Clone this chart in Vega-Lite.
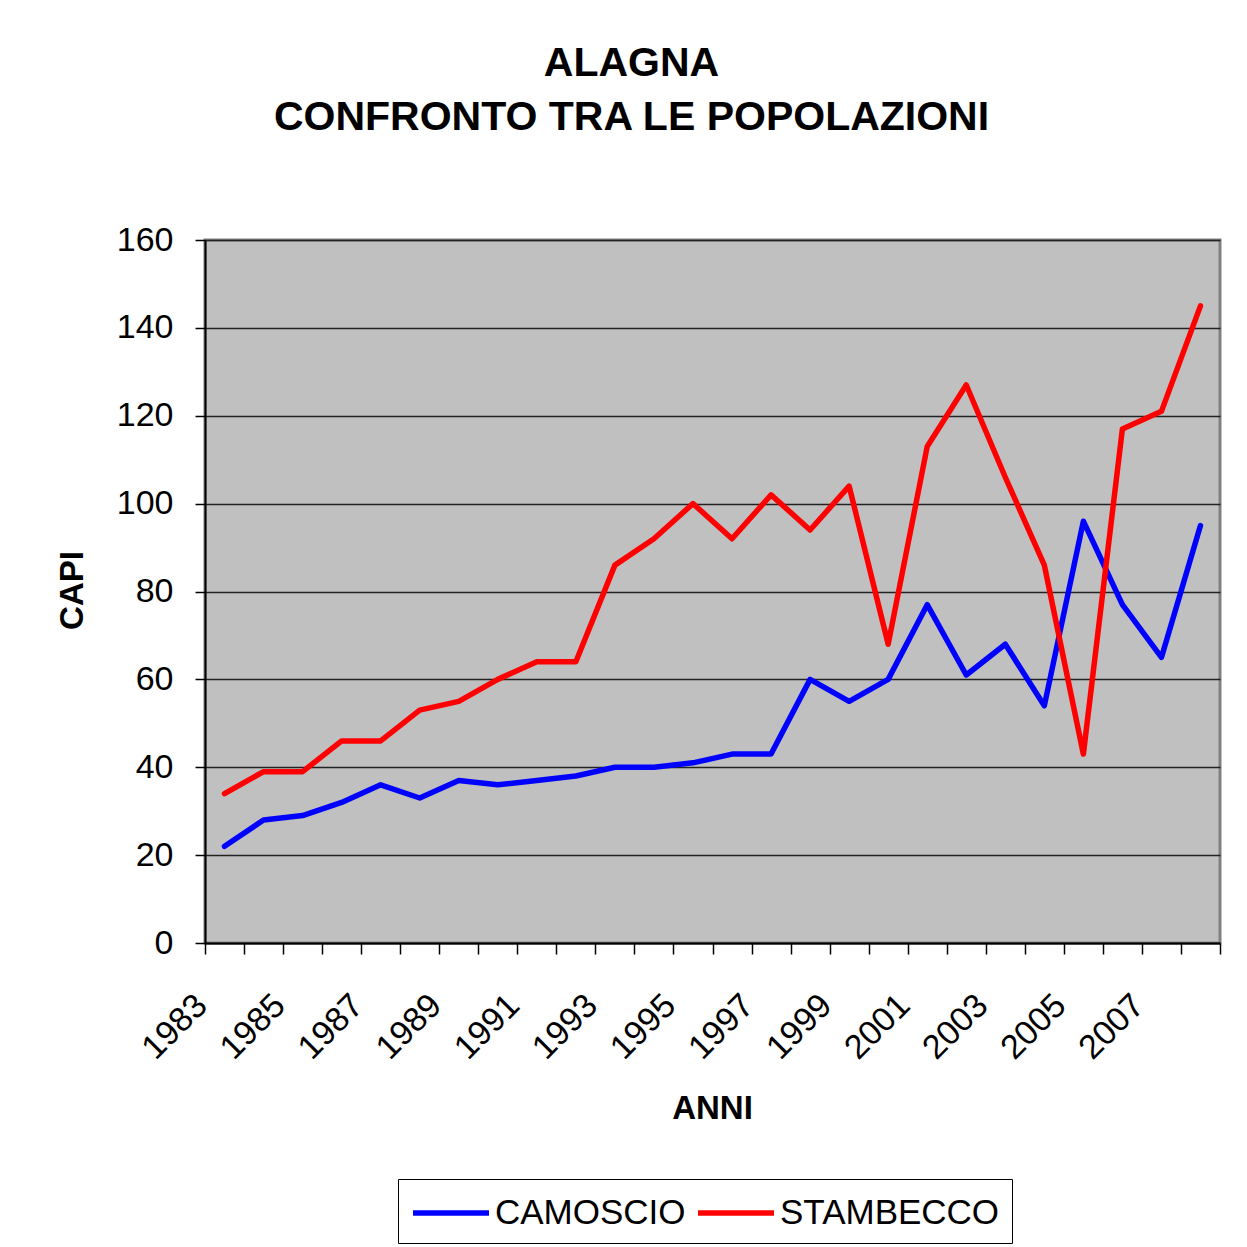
{
  "$schema": "https://vega.github.io/schema/vega-lite/v6.json",
  "autosize": "none",
  "width": 1015,
  "height": 703,
  "padding": {"left": 205, "top": 240, "right": 27, "bottom": 304},
  "background": "#FFFFFF",
  "title": {
    "text": ["ALAGNA", "CONFRONTO TRA LE POPOLAZIONI"],
    "font": "Liberation Sans",
    "fontSize": 41,
    "fontWeight": "bold",
    "color": "#000000",
    "lineHeight": 54,
    "anchor": "middle",
    "frame": "group",
    "dx": -81,
    "offset": 84
  },
  "config": {
    "view": {"fill": "#C0C0C0", "stroke": "#808080", "strokeWidth": 3},
    "axis": {
      "labelFont": "Liberation Sans",
      "labelFontSize": 34,
      "labelColor": "#000000",
      "titleFont": "Liberation Sans",
      "titleFontSize": 33,
      "titleFontWeight": "bold",
      "titleColor": "#000000",
      "domainColor": "#000000",
      "domainWidth": 2,
      "tickColor": "#000000",
      "tickWidth": 1.5
    }
  },
  "data": {
    "values": [
      {"year": 1983, "species": "CAMOSCIO", "capi": 22},
      {"year": 1984, "species": "CAMOSCIO", "capi": 28},
      {"year": 1985, "species": "CAMOSCIO", "capi": 29},
      {"year": 1986, "species": "CAMOSCIO", "capi": 32},
      {"year": 1987, "species": "CAMOSCIO", "capi": 36},
      {"year": 1988, "species": "CAMOSCIO", "capi": 33},
      {"year": 1989, "species": "CAMOSCIO", "capi": 37},
      {"year": 1990, "species": "CAMOSCIO", "capi": 36},
      {"year": 1991, "species": "CAMOSCIO", "capi": 37},
      {"year": 1992, "species": "CAMOSCIO", "capi": 38},
      {"year": 1993, "species": "CAMOSCIO", "capi": 40},
      {"year": 1994, "species": "CAMOSCIO", "capi": 40},
      {"year": 1995, "species": "CAMOSCIO", "capi": 41},
      {"year": 1996, "species": "CAMOSCIO", "capi": 43},
      {"year": 1997, "species": "CAMOSCIO", "capi": 43},
      {"year": 1998, "species": "CAMOSCIO", "capi": 60},
      {"year": 1999, "species": "CAMOSCIO", "capi": 55},
      {"year": 2000, "species": "CAMOSCIO", "capi": 60},
      {"year": 2001, "species": "CAMOSCIO", "capi": 77},
      {"year": 2002, "species": "CAMOSCIO", "capi": 61},
      {"year": 2003, "species": "CAMOSCIO", "capi": 68},
      {"year": 2004, "species": "CAMOSCIO", "capi": 54},
      {"year": 2005, "species": "CAMOSCIO", "capi": 96},
      {"year": 2006, "species": "CAMOSCIO", "capi": 77},
      {"year": 2007, "species": "CAMOSCIO", "capi": 65},
      {"year": 2008, "species": "CAMOSCIO", "capi": 95},
      {"year": 1983, "species": "STAMBECCO", "capi": 34},
      {"year": 1984, "species": "STAMBECCO", "capi": 39},
      {"year": 1985, "species": "STAMBECCO", "capi": 39},
      {"year": 1986, "species": "STAMBECCO", "capi": 46},
      {"year": 1987, "species": "STAMBECCO", "capi": 46},
      {"year": 1988, "species": "STAMBECCO", "capi": 53},
      {"year": 1989, "species": "STAMBECCO", "capi": 55},
      {"year": 1990, "species": "STAMBECCO", "capi": 60},
      {"year": 1991, "species": "STAMBECCO", "capi": 64},
      {"year": 1992, "species": "STAMBECCO", "capi": 64},
      {"year": 1993, "species": "STAMBECCO", "capi": 86},
      {"year": 1994, "species": "STAMBECCO", "capi": 92},
      {"year": 1995, "species": "STAMBECCO", "capi": 100},
      {"year": 1996, "species": "STAMBECCO", "capi": 92},
      {"year": 1997, "species": "STAMBECCO", "capi": 102},
      {"year": 1998, "species": "STAMBECCO", "capi": 94},
      {"year": 1999, "species": "STAMBECCO", "capi": 104},
      {"year": 2000, "species": "STAMBECCO", "capi": 68},
      {"year": 2001, "species": "STAMBECCO", "capi": 113},
      {"year": 2002, "species": "STAMBECCO", "capi": 127},
      {"year": 2003, "species": "STAMBECCO", "capi": 106},
      {"year": 2004, "species": "STAMBECCO", "capi": 86},
      {"year": 2005, "species": "STAMBECCO", "capi": 43},
      {"year": 2006, "species": "STAMBECCO", "capi": 117},
      {"year": 2007, "species": "STAMBECCO", "capi": 121},
      {"year": 2008, "species": "STAMBECCO", "capi": 145}
    ]
  },
  "mark": {"type": "line", "strokeWidth": 5.5, "strokeCap": "round", "strokeJoin": "round"},
  "encoding": {
    "x": {
      "field": "year",
      "type": "ordinal",
      "scale": {"type": "band", "paddingInner": 0, "paddingOuter": 0},
      "axis": {
        "title": "ANNI",
        "titleX": 507,
        "titleY": 165,
        "titleAlign": "center",
        "titleBaseline": "middle",
        "tickBand": "extent",
        "tickSize": 11,
        "labelAngle": -45,
        "labelAlign": "right",
        "labelBaseline": "middle",
        "labelPadding": 46,
        "labelOffset": -23,
        "labelOverlap": false,
        "labelExpr": "(toNumber(datum.value) - 1983) % 2 == 0 ? datum.value : ''",
        "grid": false
      }
    },
    "y": {
      "field": "capi",
      "type": "quantitative",
      "scale": {"domain": [0, 160], "nice": false, "zero": true},
      "axis": {
        "title": "CAPI",
        "titleX": -133,
        "titleY": 350,
        "titleAngle": -90,
        "titleAlign": "center",
        "titleBaseline": "middle",
        "values": [0, 20, 40, 60, 80, 100, 120, 140, 160],
        "tickSize": 10,
        "labelPadding": 22,
        "grid": true,
        "gridColor": "#222222",
        "gridWidth": 1.5
      }
    },
    "color": {
      "field": "species",
      "type": "nominal",
      "scale": {"domain": ["CAMOSCIO", "STAMBECCO"], "range": ["#0000FF", "#FF0000"]},
      "legend": {
        "title": null,
        "orient": "none",
        "legendX": 193,
        "legendY": 939,
        "direction": "horizontal",
        "columns": 2,
        "columnPadding": 1,
        "symbolType": "M-1,0H3",
        "symbolSize": 1444,
        "symbolStrokeWidth": 5.5,
        "labelFont": "Liberation Sans",
        "labelFontSize": 35,
        "labelColor": "#000000",
        "labelOffset": 41,
        "labelLimit": 400,
        "padding": 12,
        "strokeColor": "#000000",
        "fillColor": "#FFFFFF",
        "cornerRadius": 0
      }
    }
  }
}
